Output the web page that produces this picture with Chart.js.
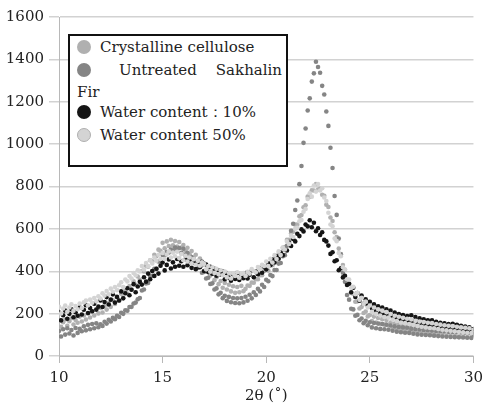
<!DOCTYPE html>
<html>
<head>
<meta charset="utf-8">
<script src="https://cdn.jsdelivr.net/npm/chart.js@4.4.1/dist/chart.umd.min.js"></script>
<style>
  html, body { margin:0; padding:0; background:#fff; }
  #wrap { position:relative; width:489px; height:405px; }
  #legend {
    position:absolute; left:68px; top:34px; width:216px; height:129px;
    border:2px solid #111; background:#fff;
    font-family:"DejaVu Serif", serif; font-size:15px; color:#222;
  }
  .item {
    position:absolute; left:7px; width:205px;
    line-height:22px; text-align:justify; text-align-last:left;
  }
  .item.wide { word-spacing:3px; }
  .dot {
    display:inline-block; width:14px; height:14px; border-radius:50%;
    vertical-align:-2px; margin-right:9px; box-sizing:border-box;
  }
</style>
</head>
<body>
<div id="wrap">
  <canvas id="chart" width="489" height="405"></canvas>
  <div id="legend"></div>
</div>
<script>
const seriesNames = ["Crystalline cellulose", "Untreated Sakhalin Fir", "Water content\uFF1A10%", "Water content 50%"];
const seriesColors = ["#b0b0b0", "#858585", "#151515", "#d4d4d4"];
const legendTops = [0, 23, 65, 88];

const xTicks = [10, 15, 20, 25, 30];
const yTicks = [0, 200, 400, 600, 800, 1000, 1200, 1400, 1600];

// 2θ scan: 10.0 .. 30.0 every 0.1 degree
const thetaStart = 10;
const thetaStep = 0.1;

const cellulose = [
  168,138,159,172,143,164,178,149,170,157,
  186,163,191,172,201,182,210,191,219,201,
  227,205,236,219,250,232,263,246,277,261,
  294,276,311,295,330,314,352,336,375,360,
  401,399,426,421,452,447,478,471,502,496,
  534,508,541,519,549,522,543,516,538,512,
  524,496,511,480,495,464,478,446,460,428,
  437,401,414,380,394,358,372,339,354,322,
  345,314,336,305,329,298,326,301,331,306,
  317,333,331,347,346,362,362,381,381,401,
  414,403,433,428,456,454,483,481,511,514,
  548,549,579,587,620,620,659,665,702,711,
  752,751,782,781,812,786,789,761,756,714,
  703,654,637,584,561,507,481,429,407,357,
  341,297,294,256,258,224,231,203,210,187,
  193,165,186,158,179,152,174,148,170,144,
  158,132,153,127,150,123,147,120,144,117,
  141,116,138,112,135,109,133,107,131,105,
  130,103,127,101,125,99,123,97,121,95,
  120,94,118,92,117,91,116,90,115,89,
  104
];

const untreated = [
  118,92,126,101,131,106,123,97,132,109,
  128,117,140,121,147,126,151,131,154,136,
  150,142,162,153,171,163,180,174,190,184,
  204,199,216,214,231,232,248,252,268,274,
  309,314,342,345,377,379,411,411,446,443,
  477,476,491,488,502,497,512,502,510,487,
  506,476,487,458,467,439,444,416,421,393,
  397,366,369,340,343,314,319,291,298,273,
  284,260,279,254,274,250,272,249,274,253,
  280,261,289,272,301,288,317,305,336,326,
  360,353,382,377,406,406,436,439,471,476,
  520,540,591,624,689,734,811,897,1006,1074,
  1159,1216,1295,1334,1389,1364,1337,1275,1234,1154,
  1086,983,887,755,666,554,480,393,350,288,
  266,223,220,190,194,169,177,155,166,145,
  159,135,156,131,153,128,151,126,148,124,
  144,119,140,115,137,112,135,110,133,109,
  129,105,127,102,125,100,123,99,122,98,
  120,96,118,94,117,92,116,91,114,90,
  113,89,112,88,111,87,110,86,109,85,
  99
];

const water10 = [
  205,168,192,214,176,199,221,183,207,190,
  229,196,218,240,203,226,211,247,219,233,
  262,231,255,278,243,266,291,252,279,262,
  305,272,296,320,287,313,339,301,328,350,
  337,372,351,389,362,401,378,412,389,426,
  441,404,430,456,413,442,421,458,426,447,
  421,455,428,449,416,442,410,437,419,445,
  401,432,396,421,388,412,379,405,385,398,
  362,391,370,355,386,364,392,359,381,367,
  391,366,384,401,372,399,386,415,393,421,
  409,437,428,455,441,470,459,488,476,503,
  498,533,519,552,541,577,566,598,588,621,
  612,641,608,629,589,603,571,584,548,541,
  521,482,490,447,452,405,414,371,378,335,
  341,301,322,279,297,261,285,246,268,238,
  256,225,244,213,235,202,229,196,221,191,
  214,187,205,178,198,172,193,166,188,164,
  192,163,184,157,178,151,173,148,169,145,
  168,142,161,137,157,133,154,130,151,128,
  152,126,147,121,143,118,139,116,136,113,
  127
];

const water50 = [
  232,201,224,238,209,229,244,214,236,221,
  248,226,253,262,239,266,251,274,258,282,
  271,296,285,307,291,318,303,326,311,334,
  348,325,361,352,377,366,392,381,405,399,
  425,408,439,424,452,437,465,449,478,458,
  486,458,479,494,465,488,471,492,462,481,
  452,473,446,465,438,457,431,449,426,442,
  434,409,425,398,419,392,412,386,405,381,
  398,371,392,366,389,378,395,369,387,392,
  378,397,389,410,401,395,420,411,430,425,
  446,424,459,441,476,458,494,477,512,503,
  541,529,568,562,601,605,636,642,681,694,
  741,768,752,805,776,812,781,792,748,731,
  676,621,612,554,542,486,471,419,408,362,
  361,322,327,292,298,265,275,245,257,229,
  238,209,229,199,221,191,214,184,207,181,
  198,172,190,165,185,158,180,155,176,151,
  172,147,166,142,163,138,160,135,157,132,
  155,131,151,127,148,124,145,121,143,119,
  141,117,138,114,135,112,133,110,131,108,
  124
];

const seriesValues = [cellulose, untreated, water10, water50];

function toPoints(values) {
  return values.map((v, i) => ({ x: +(thetaStart + i * thetaStep).toFixed(1), y: v }));
}

const datasets = seriesValues.map((vals, i) => ({
  label: seriesNames[i],
  data: toPoints(vals),
  backgroundColor: seriesColors[i],
  borderWidth: 0,
  pointRadius: 2.3,
  order: seriesValues.length - i
}));

const serif = "'DejaVu Serif', serif";

new Chart(document.getElementById("chart"), {
  type: "scatter",
  data: { datasets },
  options: {
    responsive: false,
    animation: false,
    layout: { padding: { top: 17, right: 11, left: 0, bottom: 0 } },
    plugins: { legend: { display: false }, tooltip: { enabled: false } },
    scales: {
      x: {
        type: "linear",
        min: 10, max: 30,
        afterBuildTicks: (s) => { s.ticks = xTicks.map(v => ({ value: v })); },
        afterFit: (s) => { s.height = 49; },
        grid: { drawOnChartArea: false, drawTicks: true, tickLength: 7, color: "#b8b8b8" },
        border: { color: "#b8b8b8" },
        ticks: { font: { family: serif, size: 15 }, color: "#222", padding: 6, maxRotation: 0 },
        title: { display: true, text: "2\u03B8 (\u02DA)", font: { family: serif, size: 15 }, color: "#222", padding: { top: 0, bottom: 0 } }
      },
      y: {
        min: 0, max: 1600,
        afterBuildTicks: (s) => { s.ticks = yTicks.map(v => ({ value: v })); },
        afterFit: (s) => { s.width = 59; },
        grid: { color: "#d2d2d2", lineWidth: 1.5, tickLength: 10 },
        border: { color: "#b8b8b8" },
        ticks: { font: { family: serif, size: 15 }, color: "#222", padding: 5, callback: (v) => String(v) }
      }
    }
  }
});

const legend = document.getElementById("legend");
seriesNames.forEach((name, i) => {
  const row = document.createElement("div");
  row.className = i === 1 ? "item wide" : "item";
  row.style.top = legendTops[i] + "px";
  const dot = document.createElement("span");
  dot.className = "dot";
  dot.style.background = seriesColors[i];
  if (i === 3) dot.style.border = "1px solid #b0b0b0";
  row.appendChild(dot);
  row.appendChild(document.createTextNode(i === 1 ? " " + name : name));
  legend.appendChild(row);
});
</script>
</body>
</html>
